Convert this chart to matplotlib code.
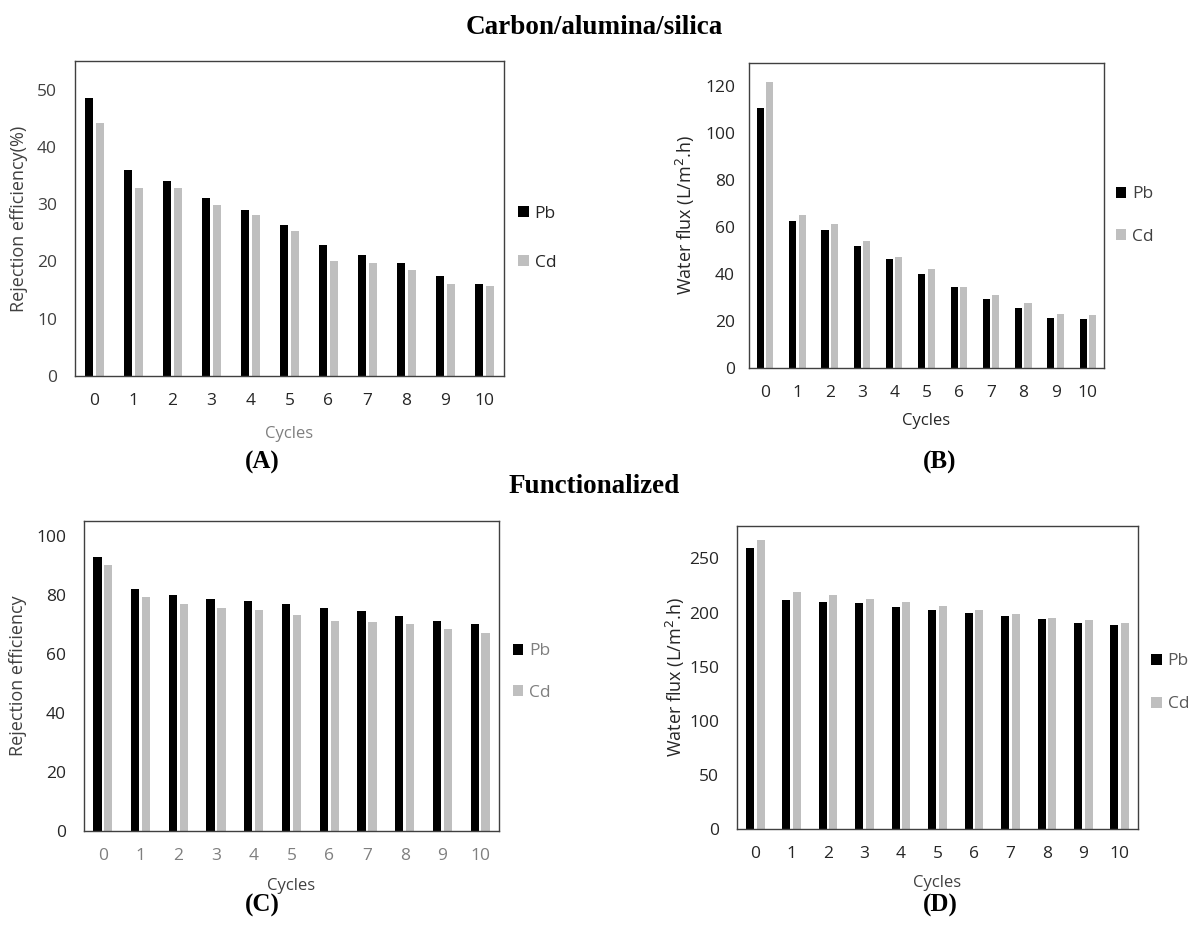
import numpy as np
import matplotlib
matplotlib.use("Agg")
import matplotlib.pyplot as plt

W, H = 1188, 933

cycles = list(range(11))
cycle_labels = [str(c) for c in cycles]

# (A) carbon/alumina/silica - rejection efficiency (%)
rej_a_pb = [48.6, 35.9, 34.0, 31.1, 29.0, 26.3, 22.8, 21.1, 19.8, 17.4, 16.1]
rej_a_cd = [44.1, 32.9, 32.9, 29.8, 28.1, 25.4, 20.0, 19.8, 18.5, 16.1, 15.8]

# (B) carbon/alumina/silica - water flux
flux_b_pb = [110.8, 62.6, 58.9, 52.1, 46.3, 40.0, 34.7, 29.6, 25.4, 21.1, 20.7]
flux_b_cd = [121.7, 65.2, 61.5, 54.2, 47.3, 42.1, 34.7, 31.0, 27.5, 23.2, 22.8]

# (C) functionalized - rejection efficiency
rej_c_pb = [92.9, 82.1, 79.9, 78.7, 77.8, 77.0, 75.7, 74.5, 72.9, 71.2, 70.0]
rej_c_cd = [90.0, 79.1, 77.0, 75.7, 74.8, 73.3, 71.1, 70.7, 70.0, 68.3, 67.0]

# (D) functionalized - water flux
flux_d_pb = [259.6, 211.8, 209.6, 208.4, 205.0, 202.8, 199.5, 196.4, 194.2, 190.8, 188.7]
flux_d_cd = [267.3, 218.6, 216.1, 213.0, 209.6, 206.2, 202.8, 198.6, 195.1, 193.0, 190.8]

PB_COLOR = "#000000"
CD_COLOR = "#bfbfbf"
DARK = "#262626"
MID = "#404040"
GRAY = "#7f7f7f"

plt.rcParams["font.family"] = ["Open Sans", "DejaVu Sans"]

fig = plt.figure(figsize=(W / 100, H / 100), dpi=100)


def px_axes(x0, y0, x1, y1):
    return fig.add_axes([x0 / W, 1 - y1 / H, (x1 - x0) / W, (y1 - y0) / H])


def panel(box, pb, cd, ylim, yticks, ylabel, colors, label_pos, leg_y, leg_sp, ypad):
    ax = px_axes(*box)
    x = np.arange(len(cycles))
    ax.bar(x - 0.145, pb, width=0.22, color=PB_COLOR, label="Pb")
    ax.bar(x + 0.145, cd, width=0.22, color=CD_COLOR, label="Cd")
    ax.set_xlim(-0.5, len(cycles) - 0.5)
    ax.set_ylim(*ylim)
    ax.set_yticks(yticks)
    ax.set_xticks(x)
    ax.set_xticklabels(cycle_labels)
    ax.tick_params(length=0, labelsize=12.5)
    ax.tick_params(axis="x", pad=12, labelcolor=colors["xt"])
    ax.tick_params(axis="y", pad=ypad, labelcolor=colors["yt"])
    for s in ax.spines.values():
        s.set_color("#404040")
        s.set_linewidth(1.0)
    ax.set_xlabel("Cycles", fontsize=12, color=colors["xl"])
    ax.set_ylabel(ylabel, fontsize=13, color=colors["yl"])
    ax.xaxis.set_label_coords(0.5, label_pos[0])
    ax.yaxis.set_label_coords(label_pos[1], 0.5)
    leg = ax.legend(loc="center left", bbox_to_anchor=(1.033, leg_y), frameon=False,
                    fontsize=12.5, handlelength=0.6, handleheight=0.6,
                    handletextpad=0.35, labelspacing=leg_sp, borderpad=0,
                    borderaxespad=0)
    for t in leg.get_texts():
        t.set_color(colors["leg"])
    return ax


panel((75, 61, 504, 376), rej_a_pb, rej_a_cd, (0, 55), range(0, 51, 10),
      "Rejection efficiency(%)",
      dict(xt=DARK, yt=MID, xl=GRAY, yl=MID, leg=DARK),
      (-0.159, -0.11), 0.437, 1.9, 13)

panel((749, 63, 1104, 368), flux_b_pb, flux_b_cd, (0, 130), range(0, 121, 20),
      "Water flux (L/m$^2$.h)",
      dict(xt=DARK, yt=DARK, xl=DARK, yl=DARK, leg=MID),
      (-0.148, -0.146), 0.5, 1.5, 10)

panel((84, 521, 499, 831), rej_c_pb, rej_c_cd, (0, 105), range(0, 101, 20),
      "Rejection efficiency",
      dict(xt=GRAY, yt=DARK, xl=MID, yl=MID, leg=GRAY),
      (-0.152, -0.137), 0.513, 1.45, 13)

panel((737, 526, 1138, 829), flux_d_pb, flux_d_cd, (0, 280), range(0, 251, 50),
      "Water flux (L/m$^2$.h)",
      dict(xt=DARK, yt=DARK, xl=MID, yl=DARK, leg="#595959"),
      (-0.152, -0.125), 0.482, 1.55, 13)

serif = ["Liberation Serif", "DejaVu Serif"]
fig.text(594 / W, 1 - 27 / H, "Carbon/alumina/silica", ha="center", va="center",
         fontsize=19.5, fontweight="bold", family=serif)
fig.text(594 / W, 1 - 487 / H, "Functionalized", ha="center", va="center",
         fontsize=19.5, fontweight="bold", family=serif)
for lab, xx, yy in [("(A)", 262, 462), ("(B)", 940, 462), ("(C)", 262, 905), ("(D)", 940, 905)]:
    fig.text(xx / W, 1 - yy / H, lab, ha="center", va="center",
             fontsize=18, fontweight="bold", family=serif)

fig.savefig("out.png", dpi=100)
